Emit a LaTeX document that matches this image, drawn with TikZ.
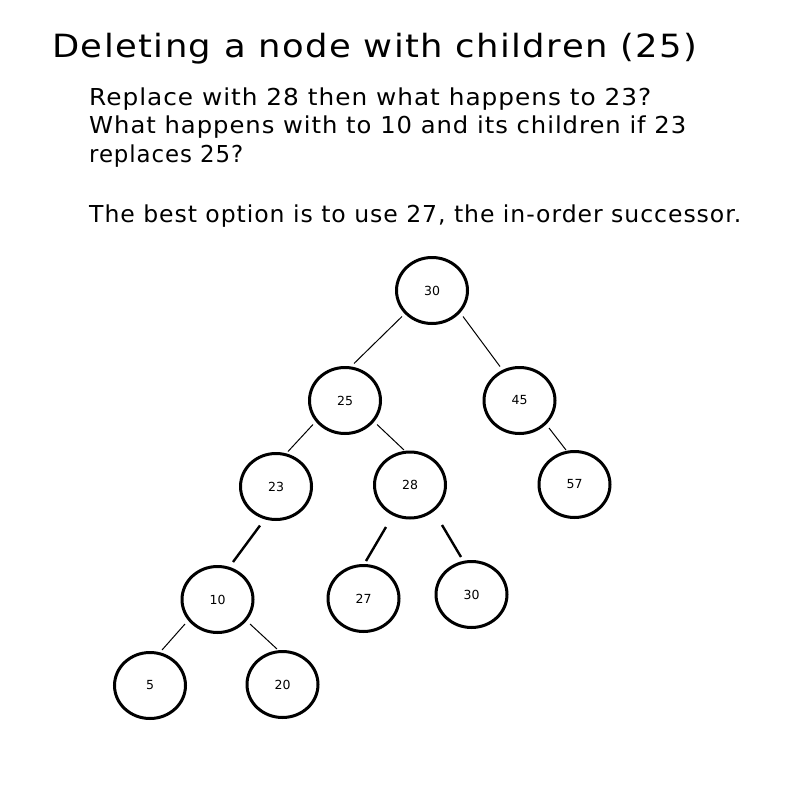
\documentclass[tikz,border=0pt]{standalone}
\usepackage{fontspec}
\setmainfont{DejaVu Sans}
\newfontfamily\spaced{DejaVu Sans}[LetterSpace=4]
\usetikzlibrary{shapes.geometric,calc}
\begin{document}
\begin{tikzpicture}[x=1pt,y=-1pt,
  bst/.style={draw=black,ellipse,line width=3pt,minimum width=71pt,minimum height=66pt,inner sep=0pt,font=\fontsize{12.5}{14}\selectfont},
  thinedge/.style={draw=black,line width=1pt},
  thickedge/.style={draw=black,line width=2.4pt},
  txt/.style={anchor=base west,inner sep=0pt,font=\spaced\fontsize{23.3}{28}\selectfont}]
\useasboundingbox[fill=white] (0,0) rectangle (800,800);
\node[anchor=base west,inner sep=0pt,font=\spaced\fontsize{32}{40}\selectfont] (title) at (52,57.5) {\resizebox{645pt}{\height}{Deleting a node with children (25)}};
\node[txt] (l1) at (89,105) {\resizebox{562pt}{\height}{Replace with 28 then what happens to 23?}};
\node[txt] (l2) at (89,133.5) {\resizebox{597pt}{\height}{What happens with to 10 and its children if 23}};
\node[txt] (l3) at (89,162) {\resizebox{154pt}{\height}{replaces 25?}};
\node[txt] (l4) at (89,222) {\resizebox{652pt}{\height}{The best option is to use 27, the in-order successor.}};
\node[bst] (n30) at (432,290.5) {30};
\node[bst] (n25) at (345,400.5) {25};
\node[bst] (n45) at (519.5,400.5) {45};
\node[bst] (n23) at (276,486.5) {23};
\node[bst] (n28) at (410,485) {28};
\node[bst] (n57) at (574.5,484.5) {57};
\node[bst] (n10) at (217.5,599.5) {10};
\node[bst] (n27) at (363.5,598.5) {27};
\node[bst] (n30b) at (471.5,594.5) {30};
\node[bst] (n5) at (150,685.5) {5};
\node[bst] (n20) at (282.5,684.5) {20};
\draw[thinedge] ($(n30)+(-30,26)$) -- ($(n25)+(9,-37)$);
\draw[thinedge] ($(n30)+(31,26)$) -- ($(n45)+(-19.5,-34)$);
\draw[thinedge] ($(n25)+(-32,24)$) -- ($(n23)+(12,-35)$);
\draw[thinedge] ($(n25)+(32,24)$) -- ($(n28)+(-6,-35)$);
\draw[thinedge] ($(n45)+(29.5,27.5)$) -- ($(n57)+(-8.5,-34.5)$);
\draw[thickedge] ($(n23)+(-16,39)$) -- ($(n10)+(15.5,-37.5)$);
\draw[thickedge] ($(n28)+(-24,42)$) -- ($(n27)+(2.5,-37.5)$);
\draw[thickedge] ($(n28)+(32,40)$) -- ($(n30b)+(-10.5,-37.5)$);
\draw[thinedge] ($(n10)+(-32.5,24.5)$) -- ($(n5)+(12,-35.5)$);
\draw[thinedge] ($(n10)+(32.5,24.5)$) -- ($(n20)+(-5.5,-35.5)$);
\end{tikzpicture}
\end{document}
